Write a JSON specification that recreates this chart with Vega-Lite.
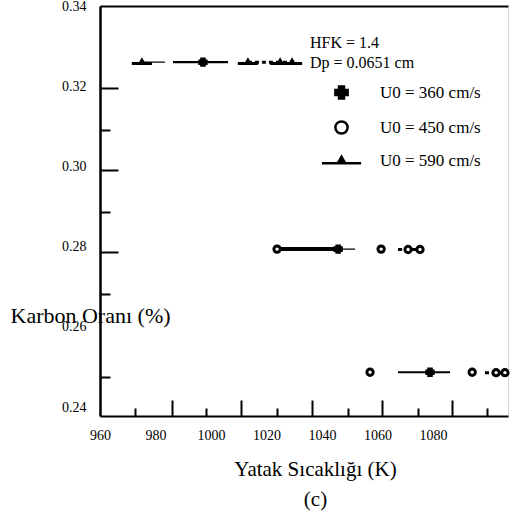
{
  "$schema": "https://vega.github.io/schema/vega-lite/v6.json",
  "width": 408,
  "height": 410,
  "autosize": {"type": "none"},
  "padding": {"left": 100, "top": 6, "right": 5, "bottom": 99},
  "background": "white",
  "config": {
    "view": {"stroke": "#d6d6d6", "strokeWidth": 1},
    "font": "Times New Roman",
    "axis": {"labelFont": "Times New Roman", "titleFont": "Times New Roman", "labelColor": "#000", "titleColor": "#000", "grid": false, "domainColor": "#000", "tickColor": "#000", "labelFlush": false, "labelOverlap": false},
    "legend": {"labelFont": "Times New Roman", "titleFont": "Times New Roman"}
  },
  "datasets": {
    "pts": [
      {"s": "U0 = 590 cm/s", "x": 975.1, "y": 0.326},
      {"s": "U0 = 360 cm/s", "x": 997.1, "y": 0.326},
      {"s": "U0 = 590 cm/s", "x": 1013.3, "y": 0.326},
      {"s": "U0 = 590 cm/s", "x": 1024.9, "y": 0.326},
      {"s": "U0 = 590 cm/s", "x": 1029.2, "y": 0.326},
      {"s": "U0 = 450 cm/s", "x": 1023.8, "y": 0.2794},
      {"s": "U0 = 360 cm/s", "x": 1045.8, "y": 0.2794},
      {"s": "U0 = 450 cm/s", "x": 1061.3, "y": 0.2794},
      {"s": "U0 = 450 cm/s", "x": 1071.0, "y": 0.2793},
      {"s": "U0 = 450 cm/s", "x": 1075.3, "y": 0.2793},
      {"s": "U0 = 450 cm/s", "x": 1057.3, "y": 0.2487},
      {"s": "U0 = 360 cm/s", "x": 1078.9, "y": 0.2487},
      {"s": "U0 = 450 cm/s", "x": 1094.1, "y": 0.2487},
      {"s": "U0 = 450 cm/s", "x": 1102.7, "y": 0.2486},
      {"s": "U0 = 450 cm/s", "x": 1105.9, "y": 0.2486}
    ],
    "segs": [
      {"kind": "thin", "x": 975.1, "x2": 983.4, "y": 0.326},
      {"kind": "thick", "x": 986.3, "x2": 1006.1, "y": 0.326},
      {"kind": "dashed", "x": 1013.3, "x2": 1031.0, "y": 0.326},
      {"kind": "med", "x": 1023.8, "x2": 1045.8, "y": 0.2794},
      {"kind": "thin", "x": 1045.8, "x2": 1051.9, "y": 0.2794},
      {"kind": "dashed", "x": 1067.4, "x2": 1077.1, "y": 0.2793},
      {"kind": "thick", "x": 1067.4, "x2": 1086.1, "y": 0.2487},
      {"kind": "dashed", "x": 1098.7, "x2": 1107.0, "y": 0.2486}
    ]
  },
  "layer": [
    {
      "data": {"name": "segs"},
      "mark": {"type": "rule", "color": "#000"},
      "encoding": {
        "x": {"field": "x", "type": "quantitative", "scale": {"domain": [960, 1107], "nice": false, "zero": false},
          "axis": {"orient": "bottom", "values": [960, 980, 1000, 1020, 1040, 1060, 1080], "format": "d", "ticks": false, "tickSize": 0, "labelPadding": 12, "labelFontSize": 14, "domainWidth": 2,
            "title": ["Yatak Sıcaklığı (K)", "(c)"], "titleFontSize": 21, "titleFontWeight": "normal", "titleX": 215, "titleY": 42, "titleBaseline": "top", "titleLineHeight": 30, "titleAlign": "center"}},
        "x2": {"field": "x2"},
        "y": {"field": "y", "type": "quantitative", "scale": {"domain": [0.2378, 0.34], "nice": false, "zero": false},
          "axis": {"orient": "left", "values": [0.24, 0.26, 0.28, 0.3, 0.32, 0.34], "format": ".2f", "ticks": false, "tickSize": 0, "labelPadding": 14, "labelFontSize": 14, "domainWidth": 2.5,
            "title": "Karbon Oranı (%)", "titleAngle": 0, "titleAlign": "left", "titleBaseline": "middle", "titleX": -90, "titleY": 309, "titleFontSize": 22, "titleFontWeight": "normal"}},
        "strokeWidth": {"field": "kind", "type": "nominal", "scale": {"domain": ["thin", "thick", "dashed", "med"], "range": [1.2, 4, 1.3, 1.8]}, "legend": null},
        "strokeDash": {"field": "kind", "type": "nominal", "scale": {"domain": ["thin", "thick", "dashed", "med"], "range": [[1, 0], [1, 0], [4, 3], [1, 0]]}, "legend": null}
      }
    },
    {
      "data": {"name": "pts"},
      "mark": {"type": "point", "filled": false, "strokeWidth": 3, "size": 40, "opacity": 1},
      "encoding": {
        "x": {"field": "x", "type": "quantitative", "scale": {"domain": [960, 1107], "nice": false, "zero": false},
          "axis": {"orient": "bottom", "values": [985.9, 1010.8, 1036.4, 1061.6, 1086.8], "labels": false, "domain": false, "tickSize": -16, "tickWidth": 2, "title": null}},
        "y": {"field": "y", "type": "quantitative", "scale": {"domain": [0.2378, 0.34], "nice": false, "zero": false},
          "axis": {"orient": "left", "values": [0.3196, 0.2991, 0.2787], "labels": false, "domain": false, "tickSize": -18, "tickWidth": 2, "title": null}},
        "shape": {"field": "s", "type": "nominal",
          "scale": {"domain": ["U0 = 360 cm/s", "U0 = 450 cm/s", "U0 = 590 cm/s"], "range": ["cross", "circle", "M-0.6,0.45L0,-0.6L0.6,0.45Z M-3.2,0.45L3.2,0.45"]},
          "legend": {"title": ["HFK = 1.4", "Dp = 0.0651 cm"], "orient": "none", "legendX": 210, "legendY": 29, "padding": 0, "titleFontSize": 16, "titleFontWeight": "normal", "titleLineHeight": 20, "titlePadding": 13, "titleColor": "#000",
            "labelFontSize": 17, "labelColor": "#000", "symbolOffset": 23, "labelOffset": 30, "rowPadding": 12, "symbolSize": 150, "symbolStrokeWidth": 2.5}},
        "fill": {"field": "s", "type": "nominal",
          "scale": {"domain": ["U0 = 360 cm/s", "U0 = 450 cm/s", "U0 = 590 cm/s"], "range": ["#000", "#fff", "#000"]},
          "legend": {"title": ["HFK = 1.4", "Dp = 0.0651 cm"], "orient": "none", "legendX": 210, "legendY": 29}},
        "stroke": {"field": "s", "type": "nominal",
          "scale": {"domain": ["U0 = 360 cm/s", "U0 = 450 cm/s", "U0 = 590 cm/s"], "range": ["#000", "#000", "#000"]},
          "legend": {"title": ["HFK = 1.4", "Dp = 0.0651 cm"], "orient": "none", "legendX": 210, "legendY": 29}}
      }
    },
    {
      "data": {"name": "pts"},
      "mark": {"type": "point", "opacity": 0},
      "encoding": {
        "x": {"field": "x", "type": "quantitative", "scale": {"domain": [960, 1107], "nice": false, "zero": false},
          "axis": {"orient": "bottom", "values": [972.6, 998.2, 1023.8, 1049.4, 1074.6, 1099.5], "labels": false, "domain": false, "tickSize": -8, "tickWidth": 2, "title": null}},
        "y": {"field": "y", "type": "quantitative", "scale": {"domain": [0.2378, 0.34], "nice": false, "zero": false},
          "axis": {"orient": "left", "values": [0.3091, 0.2886, 0.2682, 0.2475], "labels": false, "domain": false, "tickSize": -10, "tickWidth": 2, "title": null}}
      }
    },
    {
      "data": {"name": "pts"},
      "mark": {"type": "point", "opacity": 0},
      "encoding": {
        "x": {"field": "x", "type": "quantitative", "scale": {"domain": [960, 1107], "nice": false, "zero": false},
          "axis": {"orient": "top", "labels": false, "ticks": false, "domain": true, "domainWidth": 2, "title": null}},
        "y": {"field": "y", "type": "quantitative", "scale": {"domain": [0.2378, 0.34], "nice": false, "zero": false}, "axis": null}
      }
    }
  ],
  "resolve": {"axis": {"x": "independent", "y": "independent"}}
}
